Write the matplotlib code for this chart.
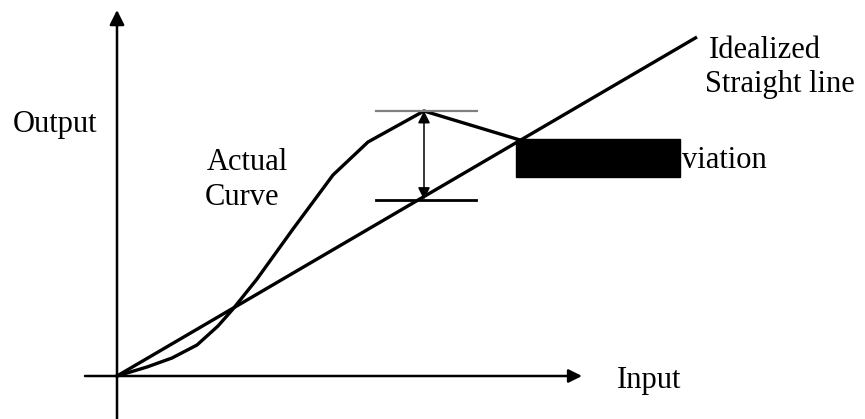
import numpy as np
import matplotlib.pyplot as plt
from matplotlib.patches import Rectangle

plt.rcParams['font.family'] = ['Liberation Serif', 'DejaVu Serif']

# ideal straight line (input, output)
ideal_in = [0, 580]
ideal_out = [0, 339]

# actual curve
actual_in = [0, 30, 55, 80, 101, 116, 140, 176, 216, 251, 307, 403]
actual_out = [0, 9, 18, 31, 50, 67, 97, 147, 201, 234, 265, 236]

# hidden label box (x0, y0, x1, y1)
box = [399, 199, 563, 237]

fig = plt.figure(figsize=(8.65, 4.19), dpi=100)
ax = fig.add_axes([0, 0, 1, 1])
ax.set_xlim(-117, 748)
ax.set_ylim(-43, 376)
ax.axis('off')

# axes with arrows
ax.annotate('', xy=(465, 0), xytext=(-32, 0),
            arrowprops=dict(arrowstyle='-|>', lw=1.8, color='black',
                            mutation_scale=20, shrinkA=0, shrinkB=0))
ax.annotate('', xy=(0, 366), xytext=(0, -43),
            arrowprops=dict(arrowstyle='-|>', lw=1.8, color='black',
                            mutation_scale=22, shrinkA=0, shrinkB=0))

ax.plot(ideal_in, ideal_out, color='black', lw=2.4, solid_capstyle='butt')
ax.plot(actual_in, actual_out, color='black', lw=2.4, solid_joinstyle='round')

# deviation marker
k = int(np.argmax(actual_out))
px, top = actual_in[k], actual_out[k]
low = np.interp(px, ideal_in, ideal_out) - 3
ax.plot([px - 48, px + 53], [top, top], color='#808080', lw=1.6)
ax.plot([px - 48, px + 52], [low, low], color='black', lw=2)
ax.annotate('', xy=(px, top), xytext=(px, low),
            arrowprops=dict(arrowstyle='<|-|>', lw=1.1, color='black',
                            mutation_scale=18, shrinkA=0, shrinkB=0))

ax.add_patch(Rectangle((box[0], box[1]), box[2] - box[0], box[3] - box[1],
                       color='black', zorder=5))

fs = 22
ax.text(-104, 244, 'Output', fontsize=fs, va='baseline')
ax.text(500, -12, 'Input', fontsize=fs, va='baseline')
ax.text(90, 206, 'Actual', fontsize=fs, va='baseline')
ax.text(88, 171, 'Curve', fontsize=fs, va='baseline')
ax.text(592, 318, 'Idealized', fontsize=fs, va='baseline')
ax.text(588, 284, 'Straight line', fontsize=fs, va='baseline')
ax.text(565, 208, 'viation', fontsize=fs, va='baseline')

fig.savefig('out.png', dpi=100)
